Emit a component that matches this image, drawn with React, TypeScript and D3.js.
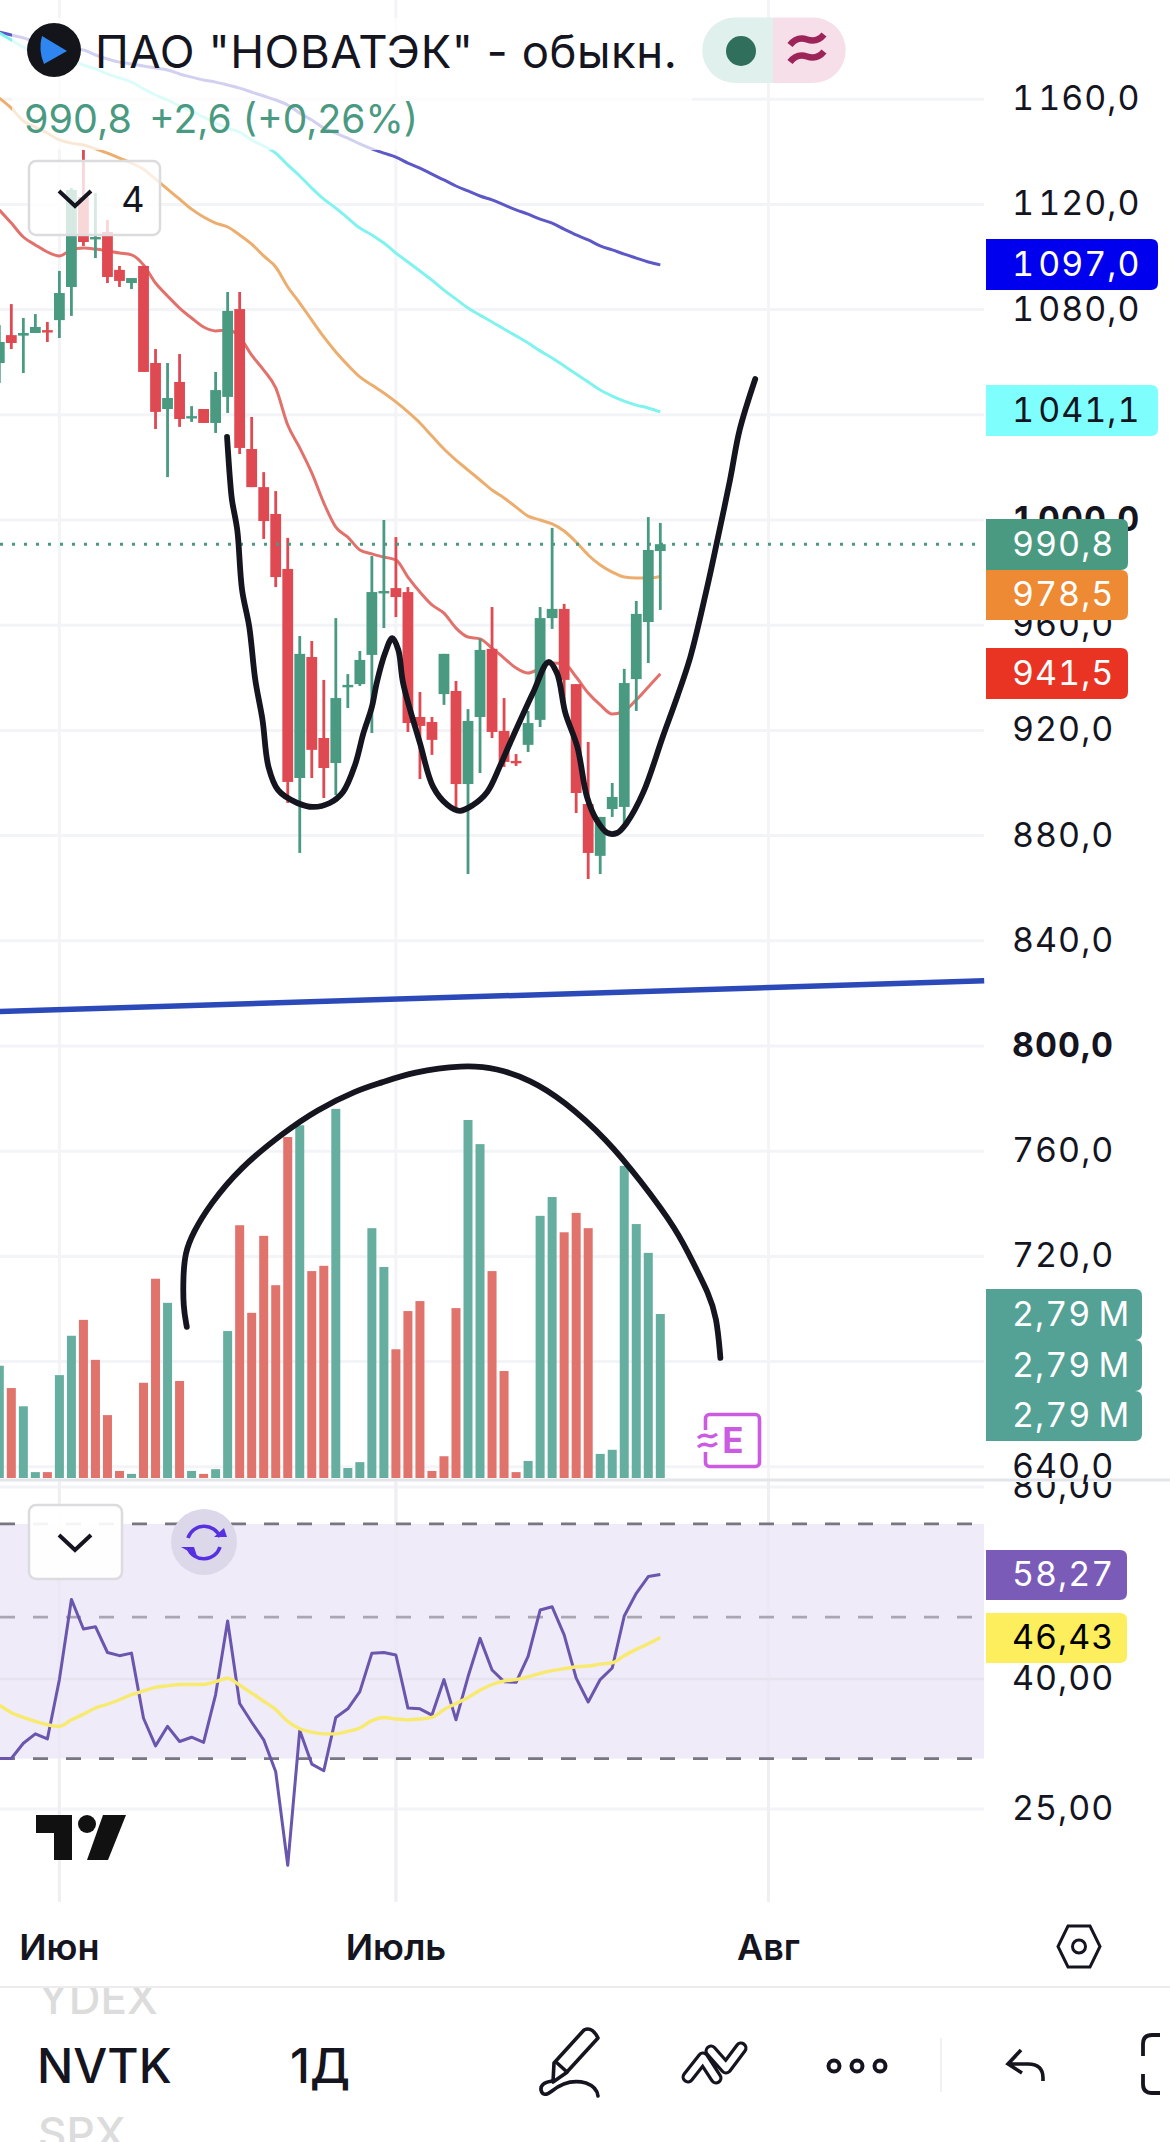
import React from "react";
import * as d3 from "d3";

const opens = [1059.7,1070.3,1070.1,1071.1,1072.2,1076.0,1088.6,1122.8,1107.2,1109.5,1095.1,1090.1,1096.6,1059.7,1042.2,1052.5,1039.2,1042.2,1036.9,1046.8,1080.2,1027.0,1012.5,1002.3,981.4,901.9,947.9,917.1,907.6,936.5,937.6,948.7,972.6,974.1,972.6,925.1,923.2,933.8,935.0,899.6,925.1,951.0,919.8,908.4,914.5,924.0,962.7,966.2,937.6,892.0,872.3,890.1,890.9,939.5,961.2,988.2];
const highs = [1074.1,1082.1,1076.8,1078.3,1075.3,1094.7,1126.2,1140.7,1124.3,1114.1,1096.6,1092.0,1096.6,1065.0,1059.7,1063.1,1043.3,1042.2,1056.3,1086.7,1086.7,1039.2,1018.2,1011.0,993.2,955.9,954.0,939.2,962.7,941.4,950.2,986.3,1000.0,993.5,974.5,934.6,925.1,949.1,938.8,928.1,954.8,966.9,932.3,911.0,927.4,966.9,997.0,968.1,937.6,915.6,887.1,900.0,943.4,969.2,1001.1,998.9];
const lows = [1052.1,1065.0,1055.9,1071.1,1067.7,1069.2,1077.6,1104.2,1099.6,1090.1,1088.6,1087.8,1056.3,1034.6,1016.3,1035.4,1037.3,1036.9,1033.1,1040.7,1025.1,1012.5,992.8,974.5,892.4,873.4,901.9,894.3,895.4,928.5,936.9,919.0,958.9,963.1,919.4,901.5,910.7,929.7,890.5,865.4,903.8,917.1,906.1,906.5,911.8,921.3,958.6,927.8,888.6,863.5,865.4,887.1,882.9,927.4,945.6,965.8];
const closes = [1067.7,1067.3,1071.1,1073.4,1071.7,1086.3,1125.5,1105.7,1107.6,1092.4,1090.9,1092.0,1056.3,1041.1,1046.4,1038.4,1039.5,1036.9,1049.4,1079.5,1027.4,1012.5,999.6,978.3,900.4,949.1,912.6,905.7,932.3,937.3,946.8,972.6,973.0,970.7,922.8,921.7,916.4,949.1,899.6,923.6,950.6,919.4,908.0,907.6,922.8,962.7,966.2,939.2,896.2,873.4,887.1,894.7,938.0,964.3,988.6,990.8];

const ma20 = [1117.9,1112.9,1107.6,1104.6,1101.9,1100.4,1102.7,1103.4,1103.0,1102.3,1101.5,1100.8,1097.0,1090.1,1085.2,1080.6,1076.8,1073.4,1071.9,1072.2,1069.6,1062.7,1057.0,1050.2,1036.1,1027.4,1017.9,1006.5,997.3,993.5,988.6,987.1,985.9,984.8,978.3,972.6,967.7,964.6,958.9,955.5,954.8,951.3,947.5,943.7,941.8,943.7,945.6,945.3,940.3,934.2,929.7,926.2,927.4,931.6,936.5,941.5];
const ma50 = [1160.4,1156.6,1151.7,1149.4,1147.1,1144.5,1143.3,1142.6,1141.1,1139.5,1137.6,1135.7,1133.4,1129.6,1125.8,1122.0,1118.2,1115.2,1112.9,1111.4,1108.4,1104.9,1100.4,1096.2,1088.6,1082.5,1076.0,1069.6,1063.9,1058.9,1054.4,1051.3,1048.3,1044.9,1041.1,1036.9,1031.9,1027.0,1022.8,1019.0,1015.2,1011.4,1008.4,1004.9,1001.5,1000.0,998.5,995.8,991.6,986.7,982.9,980.2,978.3,977.9,977.9,978.5];
const ma100 = [1185.2,1182.5,1179.8,1177.9,1176.8,1176.0,1174.9,1173.0,1171.5,1169.6,1168.1,1166.5,1163.9,1161.6,1159.7,1157.4,1155.5,1153.2,1150.9,1149.0,1147.5,1144.5,1142.2,1139.5,1135.0,1130.8,1126.2,1122.0,1118.6,1114.8,1111.0,1108.4,1105.3,1101.5,1098.1,1094.7,1091.2,1087.4,1084.0,1080.6,1077.9,1075.3,1072.6,1070.0,1067.3,1064.3,1061.6,1058.6,1055.5,1052.5,1049.4,1047.1,1045.2,1043.7,1042.6,1041.1];
const ma200 = [1185.5,1184.4,1183.3,1181.7,1180.6,1179.8,1179.1,1178.7,1176.8,1175.3,1174.1,1173.4,1172.6,1171.9,1171.1,1169.6,1168.4,1167.3,1166.5,1165.4,1164.2,1162.7,1161.2,1159.7,1157.8,1154.7,1152.1,1149.0,1147.1,1145.2,1143.0,1141.1,1139.5,1138.0,1135.7,1133.8,1131.5,1129.3,1127.0,1125.1,1123.2,1121.7,1119.8,1117.9,1116.3,1114.4,1112.9,1110.6,1108.4,1106.5,1104.2,1102.7,1101.1,1099.6,1098.1,1097.0];

const volumes = [1.91,1.53,1.22,0.10,0.10,1.75,2.42,2.69,2.01,1.07,0.12,0.07,1.62,3.39,2.98,1.65,0.12,0.07,0.15,2.50,4.30,2.81,4.12,3.28,5.80,6.00,3.52,3.61,6.28,0.17,0.27,4.25,3.59,2.19,2.84,3.01,0.12,0.37,2.89,6.09,5.68,3.52,1.82,0.10,0.29,4.46,4.78,4.18,4.51,4.25,0.41,0.48,5.31,4.32,3.83,2.79];
const volumeUp = [1,0,1,1,0,1,1,0,0,0,0,1,0,0,1,0,1,0,1,1,0,0,0,0,0,1,0,0,1,1,1,1,1,0,0,0,0,0,0,1,1,0,0,0,1,1,1,0,0,0,1,1,1,1,1,1];

const rsi = [30.0,30.0,31.7,32.8,32.2,39.9,53.3,47.9,48.3,44.0,43.5,43.9,34.7,31.4,33.7,31.9,32.4,31.8,37.8,49.3,36.6,34.2,32.1,28.6,20.4,33.2,29.4,28.7,34.8,35.9,38.2,43.9,44.0,43.6,36.0,35.9,35.1,39.9,34.5,40.3,46.3,41.3,39.6,39.5,43.4,51.3,51.9,46.9,40.1,36.8,39.9,41.6,50.2,54.5,57.9,58.3];
const rsiMa = [36.4,35.4,34.8,34.3,33.9,33.7,34.5,35.2,36.0,36.5,37.1,37.8,38.3,38.8,39.0,39.2,39.2,39.2,39.6,40.1,39.1,38.0,36.9,35.8,34.3,33.4,33.0,32.8,32.8,33.1,33.5,34.4,34.8,34.6,34.5,34.6,34.8,35.8,36.6,37.4,38.4,39.2,39.7,39.9,40.3,40.8,41.2,41.5,41.8,41.9,42.2,42.4,43.5,44.5,45.4,46.43];

const cupStroke: [number, number][] = [[18.95,1031.6],[19.2,1015.2],[19.36,1007.6],[19.8,996.2],[20.2,973.4],[20.8,959.3],[21.3,939.2],[21.9,924.0],[22.4,906.1],[23.2,897.3],[24.8,892.4],[26.1,890.9],[27.5,892.4],[28.6,896.6],[29.6,906.9],[30.3,919.0],[31.0,928.9],[31.4,938.0],[32.1,949.4],[32.7,955.1],[33.2,950.6],[33.6,938.0],[35.0,915.2],[36.1,898.5],[37.3,891.6],[38.3,889.4],[39.4,891.6],[40.6,896.6],[41.7,906.9],[42.5,915.2],[44.4,934.2],[45.7,946.0],[46.4,941.8],[47.1,926.6],[48.1,913.7],[48.9,894.7],[49.7,885.9],[50.6,881.0],[51.4,881.0],[52.2,884.8],[53.6,896.6],[55.2,917.5],[56.4,932.7],[57.5,947.9],[58.9,974.5],[59.7,991.3],[60.8,1015.2],[61.6,1034.2],[62.9,1053.6]];
const arcStroke: [number, number][] = [[15.6,693.2],[15.3,700.8],[15.3,712.2],[15.45,721.3],[16.1,728.9],[17.5,739.6],[20.0,753.6],[23.6,766.9],[26.4,775.7],[29.8,783.3],[31.7,785.9],[34.4,790.1],[38.6,792.8],[41.4,791.6],[44.2,787.1],[46.9,779.5],[50.6,764.3],[53.3,749.1],[56.4,730.1],[57.9,716.0],[59.0,706.1],[59.7,697.0],[60.0,681.4]];
const trendLine: [number, number][] = [[0,813.1],[81.95,824.8]];

const priceTicks = [1160,1120,1080,1040,1000,960,920,880,840,800,760,720,680,640];
const priceTickText: Record<number,string> = {1160:"1 160,0",1120:"1 120,0",1080:"1 080,0",1000:"1 000,0",960:"960,0",920:"920,0",880:"880,0",840:"840,0",800:"800,0",760:"760,0",720:"720,0",640:"640,0"};
const boldTicks = [1000, 800];
const rsiTicks = [80, 40, 25];
const rsiBands = [70, 50, 30];
const monthLabels = ["Июн", "Июль", "Авг"];
const monthIndex = [5, 33, 64];
const lastPrice = 990.8;

const W = 1170, H = 2142, PLOT_R = 984;
const FONT = "Inter, 'Noto Sans', sans-serif";

const x = d3.scaleLinear().domain([0, 55]).range([-0.7, 660.3]);
const y = d3.scaleLinear().domain([1000, 800]).range([520, 1046]);
const yVol = d3.scaleLinear().domain([0, 2.79]).range([1478, 1314]);
const yRsi = d3.scaleLog().domain([25, 80]).range([1809, 1487]);

const GREEN = "#4a9a82", RED = "#df4a52", GRID = "#f3f4f7", VOLG = "#66ae9f", VOLR = "#e0736b";

const priceLine = d3.line<number>().x((_, i) => x(i)).y((v) => y(v)).curve(d3.curveMonotoneX);
const rsiLine = d3.line<number>().x((_, i) => x(i)).y((v) => yRsi(v));
const rsiMaLine = d3.line<number>().x((_, i) => x(i)).y((v) => yRsi(v)).curve(d3.curveMonotoneX);
const stroke = d3.line<[number, number]>().x((d) => x(d[0])).y((d) => y(d[1])).curve(d3.curveCatmullRom.alpha(0.5));
const arcLine = d3.line<[number, number]>().x((d) => x(d[0])).y((d) => y(d[1])).curve(d3.curveBasis);

const axisText = { fontSize: 34, fontFamily: FONT, letterSpacing: 1, wordSpacing: -7, style: { fontVariantNumeric: "tabular-nums" } };

function Tag({ yt, h, w, fill, color, text }: any) {
  return (
    <g>
      <path d={`M986 ${yt}H${986 + w - 7}q7 0 7 7V${yt + h - 7}q0 7 -7 7H986Z`} fill={fill} />
      <text x={1012} y={yt + h / 2 + 11} fill={color} {...axisText}>{text}</text>
    </g>
  );
}

export default function App() {
  return (
    <svg width={W} height={H} viewBox={`0 0 ${W} ${H}`} style={{ position: "absolute", left: 0, top: 0, background: "#fff", display: "block" }}>
      <defs>
        <clipPath id="below"><rect x={980} y={1482} width={190} height={60} /></clipPath>
        <clipPath id="ydex"><rect x={0} y={1988} width={300} height={154} /></clipPath>
      </defs>

      {/* vertical grid */}
      {monthIndex.map((m) => <line key={m} x1={x(m)} x2={x(m)} y1={0} y2={1902} stroke={GRID} strokeWidth={3} />)}
      {/* price grid */}
      {priceTicks.map((t) => <line key={t} x1={0} x2={PLOT_R} y1={y(t)} y2={y(t)} stroke={GRID} strokeWidth={3} />)}

      {/* moving averages */}
      <path d={priceLine(ma200)!} fill="none" stroke="#5d58c8" strokeWidth={3} />
      <path d={priceLine(ma100)!} fill="none" stroke="#80f3ee" strokeWidth={3} />
      <path d={priceLine(ma50)!} fill="none" stroke="#ecae6e" strokeWidth={3} />
      <path d={priceLine(ma20)!} fill="none" stroke="#e2716c" strokeWidth={3} />

      {/* trend */}
      <line x1={x(trendLine[0][0])} x2={x(trendLine[1][0])} y1={y(trendLine[0][1])} y2={y(trendLine[1][1])} stroke="#2b49b8" strokeWidth={5.5} />

      {/* candles */}
      {opens.map((o, i) => {
        const c = closes[i], col = c >= o ? GREEN : RED;
        const top = y(Math.max(o, c)), bot = y(Math.min(o, c));
        return (
          <g key={i} fill={col}>
            <rect x={x(i) - 1.4} width={2.8} y={y(highs[i])} height={y(lows[i]) - y(highs[i])} />
            <rect x={x(i) - 5.4} width={10.8} y={top} height={Math.max(2.4, bot - top)} />
          </g>
        );
      })}

      {/* last price */}
      <line x1={0} x2={PLOT_R} y1={y(lastPrice)} y2={y(lastPrice)} stroke={GREEN} strokeWidth={3} strokeDasharray="3 9" />

      {/* volume */}
      {volumes.map((v, i) => (
        <rect key={i} x={x(i) - 4.5} width={9} y={yVol(v)} height={yVol(0) - yVol(v)} fill={volumeUp[i] ? VOLG : VOLR} />
      ))}

      {/* hand strokes */}
      <path d={stroke(cupStroke)!} fill="none" stroke="#14151f" strokeWidth={5.8} strokeLinecap="round" strokeLinejoin="round" />
      <path d={arcLine(arcStroke)!} fill="none" stroke="#14151f" strokeWidth={5.8} strokeLinecap="round" strokeLinejoin="round" />

      {/* earnings badge */}
      <g>
        <rect x={705.5} y={1414.5} width={54} height={52} rx={4} fill="#fff" stroke="#cb5ce2" strokeWidth={3.6} />
        <rect x={696} y={1430} width={20} height={22} fill="#fff" />
        <text x={733} y={1453} fontSize={35} fontWeight={700} textAnchor="middle" fill="#cb5ce2" fontFamily={FONT}>E</text>
        <path d="M698 1438q5 -4 9.5 -2t9.5 -2M698 1447q5 -4 9.5 -2t9.5 -2" fill="none" stroke="#cb5ce2" strokeWidth={3.4} />
      </g>

      {/* pane separator */}
      <line x1={0} x2={W} y1={1480} y2={1480} stroke="#e4e5ea" strokeWidth={3} />

      {/* RSI pane */}
      <rect x={0} y={yRsi(70)} width={PLOT_R} height={yRsi(30) - yRsi(70)} fill="#efebf8" />
      {rsiTicks.map((t) => <line key={t} x1={0} x2={PLOT_R} y1={yRsi(t)} y2={yRsi(t)} stroke={t === 40 ? "#e6e3ee" : GRID} strokeWidth={t === 40 ? 2.5 : 3} />)}
      {monthIndex.map((m) => <line key={"r" + m} x1={x(m)} x2={x(m)} y1={1482} y2={1902} stroke="#e8e7ee" strokeOpacity={0.4} strokeWidth={3} />)}
      {rsiBands.map((b) => (
        <line key={b} x1={0} x2={PLOT_R} y1={yRsi(b)} y2={yRsi(b)} stroke={b === 50 ? "#aaa6b2" : "#787680"} strokeWidth={2.8} strokeDasharray="15 18" />
      ))}
      <path d={rsiLine(rsi)!} fill="none" stroke="#6b56ad" strokeWidth={3} strokeLinejoin="round" />
      <path d={rsiMaLine(rsiMa)!} fill="none" stroke="#f7ea6f" strokeWidth={3.4} />

      {/* header overlay */}
      <rect x={12} y={18} width={680} height={132} fill="#fff" fillOpacity={0.72} />
      <circle cx={54} cy={50} r={27} fill="#14151a" />
      <path d="M42 36L67 51L44 64Q38 50 42 36Z" fill="#2f86f0" />
      <text x={95} y={68} fontSize={45.5} fill="#14151f" fontFamily={FONT} letterSpacing={0.55}>ПАО "НОВАТЭК" - обыкн.</text>
      <path d="M773 17.5H735a32.7 32.7 0 0 0 0 65.5H773Z" fill="#e0f0ec" />
      <path d="M773 17.5H813a32.7 32.7 0 0 1 0 65.5H773Z" fill="#f6dfe8" />
      <circle cx={741} cy={51} r={15} fill="#2f6f5c" />
      <path d="M790 45q7 -9 17 -5.5t17 -5M790 62q7 -9 17 -5.5t17 -5" fill="none" stroke="#9c2458" strokeWidth={6.5} />
      <text x={24} y={133} fontSize={39.5} fill={GREEN} fontFamily={FONT}>990,8</text>
      <text x={149} y={133} fontSize={39} fill={GREEN} fontFamily={FONT}>+2,6 (+0,26%)</text>

      {/* "4" button */}
      <rect x={29} y={161} width={131} height={74} rx={7} fill="#fff" fillOpacity={0.78} stroke="#dcdcde" strokeWidth={2.5} />
      <path d="M59 191L75 206L91 191" fill="none" stroke="#14151f" strokeWidth={4} />
      <text x={133} y={212} fontSize={36} textAnchor="middle" fill="#14151f" fontFamily={FONT}>4</text>

      {/* RSI buttons */}
      <rect x={29} y={1505} width={93} height={74} rx={7} fill="#fff" fillOpacity={0.92} stroke="#dcdcde" strokeWidth={2.5} />
      <path d="M59 1535L75 1550L91 1535" fill="none" stroke="#14151f" strokeWidth={4} />
      <circle cx={204} cy={1542} r={33} fill="#dcd8ea" />
      <path d="M188 1538a17 17 0 0 1 32 -1M220 1547a17 17 0 0 1 -32 1" fill="none" stroke="#5730e0" strokeWidth={3.6} />
      <path d="M214 1537h13l-3 -9ZM181 1547h13l3 9Z" fill="#5730e0" />

      {/* logo */}
      <g fill="#111">
        <rect x={36} y={1815} width={36} height={18} />
        <rect x={54} y={1815} width={18} height={45} />
        <circle cx={87} cy={1824} r={9} />
        <path d="M103 1815H126L108 1860H87Z" />
      </g>

      {/* price axis labels */}
      {priceTicks.filter((t) => priceTickText[t]).map((t) => (
        <text key={t} x={1012} y={y(t) + 11} fontWeight={boldTicks.includes(t) ? 700 : 400} fill="#14151f" {...axisText}>{priceTickText[t]}</text>
      ))}
      {/* rsi axis labels */}
      {rsiTicks.map((t) => (
        <text key={t} x={1012} y={yRsi(t) + 11} fill="#14151f" {...axisText} clipPath={t === 80 ? "url(#below)" : undefined}>{t},00</text>
      ))}

      {/* value tags */}
      <Tag yt={239} h={51} w={172} fill="#0000ee" color="#fff" text="1 097,0" />
      <Tag yt={385} h={51} w={172} fill="#7ffefe" color="#14151f" text="1 041,1" />
      <Tag yt={519} h={51} w={142} fill={GREEN} color="#fff" text="990,8" />
      <Tag yt={570} h={50} w={142} fill="#ee8a33" color="#fff" text="978,5" />
      <Tag yt={648} h={51} w={142} fill="#e93424" color="#fff" text="941,5" />
      <Tag yt={1289} h={51} w={156} fill="#54a295" color="#fff" text={"2,79\u2009M"} />
      <Tag yt={1340} h={51} w={156} fill="#54a295" color="#fff" text={"2,79\u2009M"} />
      <Tag yt={1391} h={50} w={156} fill="#54a295" color="#fff" text={"2,79\u2009M"} />
      <Tag yt={1550} h={50} w={141} fill="#7a5cb8" color="#fff" text="58,27" />
      <Tag yt={1613} h={50} w={141} fill="#fcee5c" color="#000" text="46,43" />

      {/* time axis */}
      {monthLabels.map((m, i) => (
        <text key={m} x={x(monthIndex[i])} y={1960} fontSize={36} fontWeight={600} textAnchor="middle" fill="#14151f" fontFamily={FONT}>{m}</text>
      ))}
      <path d="M1068 1926H1090L1100 1946.5L1090 1967H1068L1058 1946.5Z" fill="none" stroke="#14151f" strokeWidth={3} />
      <circle cx={1079} cy={1946.5} r={6.5} fill="none" stroke="#14151f" strokeWidth={3} />

      {/* bottom bar */}
      <line x1={0} x2={W} y1={1987} y2={1987} stroke="#ececee" strokeWidth={2} />
      <text x={38} y={2014} fontSize={44} fontWeight={500} fill="#dcdcdc" fontFamily={FONT} clipPath="url(#ydex)">YDEX</text>
      <text x={37} y={2083} fontSize={48} fontWeight={500} fill="#14151f" fontFamily={FONT}>NVTK</text>
      <text x={290} y={2083} fontSize={48} fontWeight={500} fill="#14151f" fontFamily={FONT}>1Д</text>
      <text x={38} y={2149} fontSize={44} fontWeight={500} fill="#dcdcdc" fontFamily={FONT}>SPX</text>
      {/* pencil */}
      <g fill="none" stroke="#14151f" strokeWidth={3.6} strokeLinejoin="round" strokeLinecap="round">
        <path d="M584 2030Q592 2026 598 2038L566 2073L553 2082L554 2063Z" />
        <path d="M556 2062L567 2072" />
        <path d="M552 2081Q540 2083 541 2090Q543 2098 552 2091Q568 2078 586 2083Q597 2087 598 2096" />
      </g>
      {/* lines tool */}
      <g fill="none" strokeLinecap="round" strokeLinejoin="round">
        <path d="M688 2077L703 2058L716 2078M711 2051L726 2068L741 2048" stroke="#14151f" strokeWidth={13} />
        <path d="M688 2077L703 2058L716 2078M711 2051L726 2068L741 2048" stroke="#fff" strokeWidth={6.5} />
      </g>
      {/* dots */}
      <g fill="none" stroke="#14151f" strokeWidth={4}>
        <circle cx={834} cy={2066} r={5.5} /><circle cx={857} cy={2066} r={5.5} /><circle cx={880} cy={2066} r={5.5} />
      </g>
      <line x1={941} x2={941} y1={2038} y2={2092} stroke="#f1f1f3" strokeWidth={2} />
      {/* undo */}
      <path d="M1021 2050L1008 2064L1022 2073M1009 2064H1028Q1043 2064 1043 2078V2081" fill="none" stroke="#14151f" strokeWidth={3.6} />
      {/* crop */}
      <path d="M1160 2035H1152Q1143 2035 1143 2044V2056M1143 2074V2084Q1143 2093 1152 2093H1160" fill="none" stroke="#14151f" strokeWidth={3.8} />
    </svg>
  );
}
